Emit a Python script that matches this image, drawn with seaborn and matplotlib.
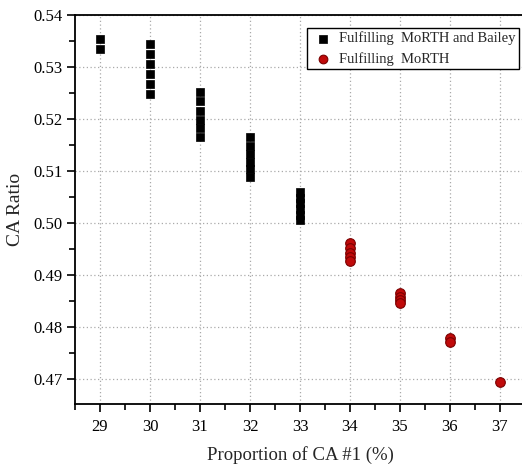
import pandas as pd
import numpy as np
import matplotlib
matplotlib.use("Agg")
import matplotlib.pyplot as plt
from matplotlib.ticker import MultipleLocator
import seaborn as sns

# Data
bailey_x = [29, 29,
            30, 30, 30, 30, 30, 30,
            31, 31, 31, 31, 31, 31,
            32, 32, 32, 32, 32, 32,
            33, 33, 33, 33, 33, 33]
bailey_y = [0.5353, 0.5334,
            0.5344, 0.5325, 0.5305, 0.5286, 0.5267, 0.5249,
            0.5252, 0.5234, 0.5216, 0.5199, 0.5183, 0.5166,
            0.5165, 0.5148, 0.5132, 0.5117, 0.5103, 0.5088,
            0.5060, 0.5049, 0.5038, 0.5027, 0.5016, 0.5006]
morth_x = [34, 34, 34, 34, 34,
           35, 35, 35, 35,
           36, 36,
           37]
morth_y = [0.4961, 0.4952, 0.4943, 0.4935, 0.4927,
           0.4865, 0.4858, 0.4852, 0.4846,
           0.4779, 0.4771,
           0.4694]
label_bailey = "Fulfilling  MoRTH and Bailey"
label_morth = "Fulfilling  MoRTH"

df = pd.concat([
    pd.DataFrame({"x": bailey_x, "y": bailey_y, "group": label_bailey}),
    pd.DataFrame({"x": morth_x, "y": morth_y, "group": label_morth}),
])

sns.set_style("white")
plt.rcParams['font.family'] = ['Liberation Serif', 'DejaVu Serif']

fig = plt.figure(figsize=(5.22, 4.69), dpi=100)
ax = fig.add_axes([75/522, 1-404/469, 450/522, (404-15)/469])

sns.scatterplot(data=df[df.group == label_bailey], x="x", y="y", ax=ax,
                marker="s", s=40, color="black", edgecolor="black",
                linewidth=0.5, label=label_bailey, zorder=3)
sns.scatterplot(data=df[df.group == label_morth], x="x", y="y", ax=ax,
                marker="o", s=48, color="#c00a0a", edgecolor="#7a0000",
                linewidth=0.8, label=label_morth, zorder=3)

ax.set_xlim(28.5, 37.5)
ax.set_ylim(0.4652, 0.54)
ax.xaxis.set_major_locator(MultipleLocator(1))
ax.xaxis.set_minor_locator(MultipleLocator(0.5))
ax.yaxis.set_major_locator(MultipleLocator(0.01))
ax.yaxis.set_minor_locator(MultipleLocator(0.005))
ax.yaxis.set_major_formatter(matplotlib.ticker.FormatStrFormatter("%.2f"))

ax.grid(True, which="major", linestyle=(0, (1, 2)), color="#aaaaaa", linewidth=0.9)
ax.set_axisbelow(True)
for s in ax.spines.values():
    s.set_color("black")
    s.set_linewidth(1.3)

ax.tick_params(which="major", direction="out", length=6, width=1.2, colors="black",
               labelsize=12, bottom=True, left=True)
ax.tick_params(which="minor", direction="out", length=4, width=1.2, colors="black",
               bottom=True, left=True)
ax.tick_params(axis="x", pad=5)
ax.tick_params(axis="y", pad=3)

ax.set_xlabel("Proportion of CA #1 (%)", fontsize=13.5, labelpad=8)
ax.set_ylabel("CA Ratio", fontsize=14, labelpad=7)

leg = ax.legend(loc="upper right", bbox_to_anchor=((519-75)/450, 1-(28-15)/389),
                borderaxespad=0, fontsize=10.5,
                frameon=True, fancybox=False, edgecolor="black", framealpha=1,
                borderpad=0.25, handletextpad=0.3, labelspacing=0.45,
                handlelength=1.6, scatterpoints=1, markerscale=0.9)
leg.get_frame().set_linewidth(1.0)

fig.savefig("out.png", dpi=100)
